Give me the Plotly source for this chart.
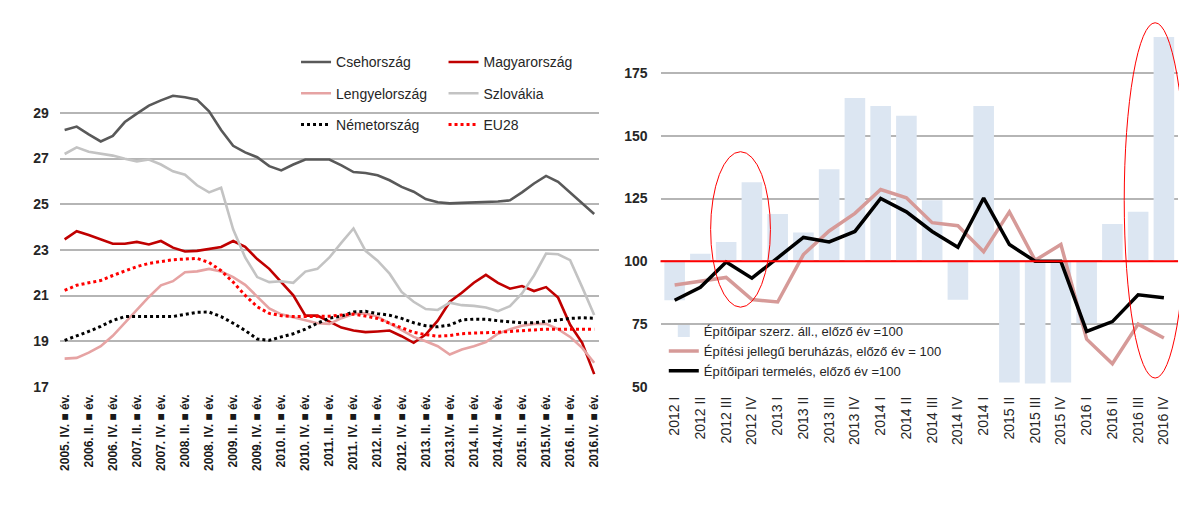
import plotly.graph_objects as go

# ---------------- left chart data ----------------
left_tick_labels = [
    "2005. IV. ■ év.", "2006. II. ■ év.", "2006. IV. ■ év.", "2007. II. ■ év.",
    "2007. IV. ■ év.", "2008. II. ■ év.", "2008. IV. ■ év.", "2009. II. ■ év.",
    "2009. IV. ■ év.", "2010. II. ■ év.", "2010. IV. ■ év.", "2011. II. ■ év.",
    "2011. IV. ■ év.", "2012. II. ■ év.", "2012. IV. ■ év.", "2013. II. ■ év.",
    "2013.IV. ■ év.", "2014. II. ■ év.", "2014.IV. ■ év.", "2015. II. ■ év.",
    "2015.IV. ■ év.", "2016. II. ■ év.", "2016.IV. ■ év.",
]

csehorszag = [28.25, 28.4, 28.06, 27.75, 27.99, 28.6, 28.97, 29.32, 29.55, 29.75,
              29.69, 29.58, 29.07, 28.25, 27.56, 27.27, 27.06, 26.67, 26.48, 26.74,
              26.96, 26.96, 26.96, 26.7, 26.41, 26.37, 26.27, 26.05, 25.76, 25.55,
              25.23, 25.09, 25.04, 25.06, 25.07, 25.09, 25.12, 25.17, 25.52, 25.91,
              26.24, 25.98, 25.52, 25.04, 24.57]
magyarorszag = [23.46, 23.82, 23.65, 23.46, 23.27, 23.27, 23.35, 23.24, 23.39, 23.1,
                22.93, 22.96, 23.06, 23.13, 23.39, 23.13, 22.6, 22.17, 21.59, 21.01,
                20.12, 20.12, 19.86, 19.6, 19.47, 19.4, 19.43, 19.47, 19.22, 18.93,
                19.29, 19.9, 20.73, 21.12, 21.56, 21.91, 21.56, 21.3, 21.42, 21.2,
                21.37, 20.91, 19.72, 18.93, 17.56]
lengyelorszag = [18.24, 18.27, 18.5, 18.78, 19.24, 19.79, 20.37, 20.94, 21.45, 21.63,
                 22.02, 22.06, 22.17, 22.06, 21.81, 21.47, 20.94, 20.44, 20.18, 20.04,
                 19.91, 19.79, 19.76, 20.01, 20.19, 20.22, 20.08, 19.79, 19.47, 19.19,
                 19.0, 18.78, 18.42, 18.64, 18.78, 18.96, 19.33, 19.53, 19.68, 19.76,
                 19.76, 19.53, 19.19, 18.71, 18.06]
szlovakia = [27.2, 27.49, 27.3, 27.23, 27.13, 26.99, 26.88, 26.96, 26.74, 26.44,
             26.29, 25.83, 25.52, 25.72, 23.9, 22.67, 21.81, 21.59, 21.63, 21.56,
             22.05, 22.17, 22.67, 23.32, 23.94, 22.96, 22.53, 21.96, 21.16, 20.73,
             20.41, 20.37, 20.69, 20.58, 20.55, 20.48, 20.32, 20.54, 21.09, 21.88,
             22.84, 22.81, 22.55, 21.37, 20.15]
nemetorszag = [19.04, 19.22, 19.43, 19.65, 19.91, 20.08, 20.08, 20.08, 20.08, 20.08,
               20.18, 20.27, 20.28, 20.08, 19.79, 19.47, 19.1, 19.04, 19.19, 19.33,
               19.53, 19.79, 20.01, 20.1, 20.28, 20.31, 20.21, 20.14, 20.0, 19.81,
               19.68, 19.63, 19.71, 19.93, 19.97, 19.96, 19.9, 19.86, 19.81, 19.81,
               19.86, 19.93, 20.0, 20.03, 20.01]
eu28 = [21.23, 21.45, 21.56, 21.66, 21.88, 22.09, 22.27, 22.41, 22.5, 22.57,
        22.6, 22.63, 22.45, 22.09, 21.59, 21.01, 20.51, 20.22, 20.12, 20.08,
        20.08, 20.08, 20.1, 20.15, 20.19, 20.1, 20.0, 19.79, 19.58, 19.39,
        19.29, 19.22, 19.25, 19.33, 19.36, 19.36, 19.39, 19.43, 19.47, 19.5,
        19.53, 19.53, 19.53, 19.53, 19.53]

# ---------------- right chart data ----------------
right_labels = ["2012 I", "2012 II", "2012 III", "2012 IV", "2013 I", "2013 II",
                "2013 III", "2013 IV", "2014 I", "2014 II", "2014 III", "2014 IV",
                "2014 I", "2015 II", "2015 III", "2015 IV", "2016 I", "2016 II",
                "2016 III", "2016 IV"]
szerzodes = [84.5, 103, 107.7, 131.5, 118.8, 111.5, 136.7, 165, 161.8, 158,
             124.3, 84.7, 161.8, 51.8, 51.4, 51.8, 75.3, 114.9, 119.7, 189.3]
beruhazas = [90.6, 92, 93.6, 84.8, 83.8, 102.7, 112.1, 119.1, 128.6, 125.3,
             115.4, 114.2, 103.8, 119.7, 100.4, 106.7, 69, 59.2, 75, 69.5]
termeles = [84.5, 89.7, 99.7, 93.3, 101.4, 109.5, 107.7, 111.9, 125, 119.7,
            111.9, 105.6, 125.2, 106.7, 100, 100, 72.1, 76, 86.7, 85.5]
base_level = 100

FONT = "Liberation Sans, Arial, sans-serif"
W, H = 1187, 506

n_left = len(csehorszag)
xl = list(range(n_left))
xr = list(range(len(right_labels)))

fig = go.Figure()

left_series = [
    ("Csehország", csehorszag, "#595959", "solid", 2.6, "legend"),
    ("Magyarország", magyarorszag, "#c00000", "solid", 2.6, "legend2"),
    ("Lengyelország", lengyelorszag, "#e6a3a3", "solid", 2.6, "legend"),
    ("Szlovákia", szlovakia, "#c3c3c3", "solid", 2.6, "legend2"),
    ("Németország", nemetorszag, "#000000", "dot", 3, "legend"),
    ("EU28", eu28, "#ff0000", "dot", 3, "legend2"),
]
for name, vals, col, dash, wdt, lg in left_series:
    fig.add_trace(go.Scatter(
        x=xl, y=vals, name=name, mode="lines",
        line=dict(color=col, width=wdt, dash=dash),
        xaxis="x", yaxis="y", legend=lg, legendgroup=name,
    ))

fig.add_trace(go.Bar(
    x=xr, y=[v - base_level for v in szerzodes], base=base_level,
    name="Építőipar szerz. áll., előző év =100",
    marker=dict(color="#dce6f2", line=dict(width=0)), width=0.8,
    xaxis="x2", yaxis="y2", legend="legend3",
))
fig.add_trace(go.Scatter(
    x=xr, y=beruhazas, name="Építési jellegű beruházás, előző év = 100",
    mode="lines", line=dict(color="#d69a98", width=3.5),
    xaxis="x2", yaxis="y2", legend="legend3",
))
fig.add_trace(go.Scatter(
    x=xr, y=termeles, name="Építőipari termelés, előző év =100",
    mode="lines", line=dict(color="#000000", width=3.5),
    xaxis="x2", yaxis="y2", legend="legend3",
))

def px_x(p):
    return p / W

def px_y(p):
    return 1 - p / H

grid = dict(showgrid=True, gridcolor="#b5b5b5", gridwidth=1.6, zeroline=False,
            showline=False, ticks="")

fig.update_layout(
    width=W, height=H,
    margin=dict(l=0, r=0, t=0, b=0),
    paper_bgcolor="white", plot_bgcolor="white",
    font=dict(family=FONT, size=14, color="#262626"),
    showlegend=True,
    xaxis=dict(domain=[px_x(50), px_x(591)], range=[-0.4, n_left - 1 + 0.4],
               anchor="y",
               tickmode="array", tickvals=xl[::2], ticktext=left_tick_labels,
               tickangle=-90, showgrid=False, zeroline=False, showline=False,
               ticks="", ticklabelstandoff=4,
               tickfont=dict(family=FONT, size=12, color="#1a1a1a", weight="bold")),
    yaxis=dict(domain=[px_y(385), px_y(83.4)], range=[17, 30], tick0=17, dtick=2,
               anchor="x",
               tickfont=dict(family=FONT, size=14, color="#262626", weight="bold"),
               ticklabelstandoff=10, **grid),
    xaxis2=dict(domain=[px_x(652.7), px_x(1172)], range=[-0.55, len(xr) - 1 + 0.55],
                anchor="y2",
                tickmode="array", tickvals=xr, ticktext=right_labels,
                tickangle=-90, showgrid=False, zeroline=False, showline=False,
                ticks="", ticklabelstandoff=6,
                tickfont=dict(family=FONT, size=14, color="#262626")),
    yaxis2=dict(domain=[px_y(385), px_y(7.3)], range=[50, 198], tick0=50, dtick=25,
                anchor="x2",
                tickfont=dict(family=FONT, size=14, color="#262626", weight="bold"),
                ticklabelstandoff=12, **grid),
    bargap=0.2,
    legend=dict(x=px_x(287), y=px_y(39), xanchor="left", yanchor="top",
                bgcolor="rgba(0,0,0,0)", tracegroupgap=10,
                font=dict(family=FONT, size=14, color="#262626")),
    legend2=dict(x=px_x(435), y=px_y(39), xanchor="left", yanchor="top",
                 bgcolor="rgba(0,0,0,0)", tracegroupgap=10,
                 font=dict(family=FONT, size=14, color="#262626")),
    legend3=dict(x=px_x(656), y=px_y(313), xanchor="left", yanchor="top",
                 bgcolor="rgba(0,0,0,0)", tracegroupgap=0,
                 font=dict(family=FONT, size=13, color="#262626")),
    shapes=[
        dict(type="line", xref="x2 domain", yref="y2", x0=0, x1=1,
             y0=base_level, y1=base_level, line=dict(color="#ff0000", width=2),
             layer="above"),
        dict(type="circle", xref="paper", yref="paper",
             x0=px_x(703), x1=px_x(763), y0=px_y(304), y1=px_y(146),
             line=dict(color="#ff0000", width=1)),
        dict(type="circle", xref="paper", yref="paper",
             x0=px_x(1118), x1=px_x(1180), y0=px_y(376), y1=px_y(15),
             line=dict(color="#ff0000", width=1)),
    ],
)

fig.write_html("out.html")
